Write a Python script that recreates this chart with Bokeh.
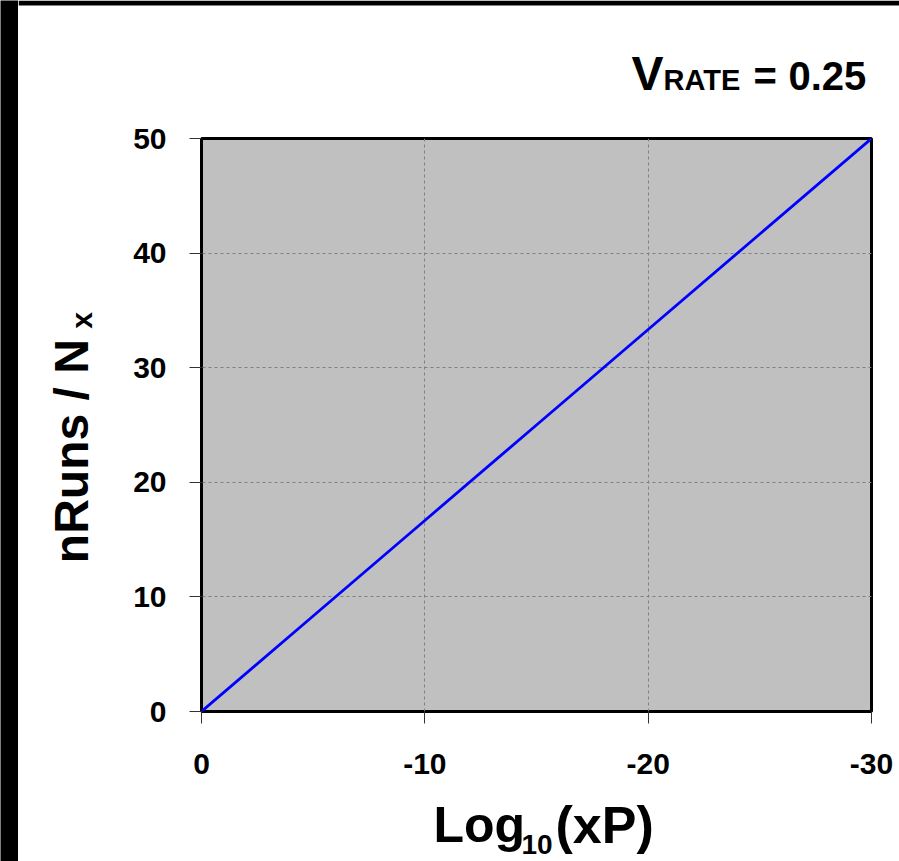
from bokeh.plotting import figure
from bokeh.models import Range1d, Label, FixedTicker, BoxAnnotation
from bokeh.layouts import row, column
from bokeh.embed import file_html
from bokeh.resources import INLINE
import math

# ---- data ----
log_xp = [0, -5, -10, -15, -20, -25, -30]
nruns = [0.0, 8.33, 16.67, 25.0, 33.33, 41.67, 50.0]
x_ticks = [0, -10, -20, -30]
x_tick_labels = ["0", "-10", "-20", "-30"]
y_ticks = [0, 10, 20, 30, 40, 50]
y_tick_labels = ["0", "10", "20", "30", "40", "50"]
title_parts = ["V", "RATE", "=", "0.25"]
xlabel_parts = ["Log", "10", "(xP)"]
ylabel_parts = ["nRuns / N", "x"]

FONT = "Liberation Sans"
PAGE_W, PAGE_H = 899, 861
EDGE_L, EDGE_T = 18, 5          # black page edges
MAIN_X0, MAIN_Y0, MAIN_Y1 = 100, 118, 790   # page box of the main figure
FRAME_T = 138


def blank(w, h, color):
    f = figure(width=w, height=h, output_backend="svg", toolbar_location=None,
               title=None, x_axis_type=None, y_axis_type=None, min_border=0)
    f.outline_line_color = None
    f.background_fill_color = color
    f.border_fill_color = color
    return f


def text_fig(x0, x1, y0, y1):
    # data x = page x; data y = PAGE_H - page y
    f = figure(width=x1 - x0, height=y1 - y0, output_backend="svg", toolbar_location=None,
               title=None, x_range=Range1d(x0, x1), y_range=Range1d(PAGE_H - y1, PAGE_H - y0),
               x_axis_type=None, y_axis_type=None, min_border=0)
    f.outline_line_color = None
    f.background_fill_color = "white"
    f.border_fill_color = "white"
    return f


def lab(f, text, X, Y, size, angle=0.0):
    f.add_layout(Label(x=X, y=PAGE_H - Y, text=text, text_font=FONT, text_font_style="bold",
                       text_font_size=f"{size}px", text_color="black",
                       text_align="left", text_baseline="alphabetic", angle=angle))


# ---- main chart ----
p = figure(width=PAGE_W - MAIN_X0, height=MAIN_Y1 - MAIN_Y0,
           output_backend="svg", toolbar_location=None, title=None,
           x_range=Range1d(0, -30), y_range=Range1d(0, 50),
           min_border_left=101, min_border_right=28,
           min_border_top=FRAME_T - MAIN_Y0, min_border_bottom=79)
p.background_fill_color = "#C0C0C0"
p.border_fill_color = "white"
p.outline_line_color = "black"
p.outline_line_width = 3

p.line(log_xp, nruns, line_color="#0000FF", line_width=2.8)

for ax in (p.xaxis, p.yaxis):
    ax.axis_line_color = None
    ax.major_tick_in = 0
    ax.major_tick_out = 12
    ax.major_tick_line_color = "#333333"
    ax.major_tick_line_width = 1
    ax.minor_tick_line_color = None
    ax.major_label_text_font = FONT
    ax.major_label_text_font_style = "bold"
    ax.major_label_text_font_size = "30px"
    ax.major_label_text_color = "black"
p.xaxis.ticker = FixedTicker(ticks=x_ticks)
p.yaxis.ticker = FixedTicker(ticks=y_ticks)
p.xaxis.major_label_overrides = dict(zip(x_ticks, x_tick_labels))
p.yaxis.major_label_overrides = dict(zip(y_ticks, y_tick_labels))
p.yaxis.major_label_standoff = 23
p.xaxis.major_label_standoff = 30

p.xgrid.ticker = FixedTicker(ticks=x_ticks)
p.ygrid.ticker = FixedTicker(ticks=y_ticks)
for g in (p.xgrid, p.ygrid):
    g.grid_line_color = "#808080"
    g.grid_line_dash = "3 3"
    g.grid_line_width = 1

# ---- text areas around the chart ----
# (Label anchors sit about 0.32 em above the drawn baseline)
top = text_fig(EDGE_L, PAGE_W, 0, MAIN_Y0)
top.add_layout(BoxAnnotation(left=EDGE_L, right=PAGE_W, top=PAGE_H, bottom=PAGE_H - EDGE_T,
                             fill_color="black", fill_alpha=1, line_color=None))
lab(top, title_parts[0], 631, 73, 48)
lab(top, title_parts[1], 663, 79, 29)
lab(top, title_parts[2], 753, 75, 40)
lab(top, title_parts[3], 788, 75, 40)

bottom = text_fig(EDGE_L, PAGE_W, MAIN_Y1, PAGE_H)
lab(bottom, xlabel_parts[0], 433, 824, 50)
lab(bottom, xlabel_parts[1], 521, 844, 28)
lab(bottom, xlabel_parts[2], 555, 824, 52)

left = text_fig(EDGE_L, MAIN_X0, MAIN_Y0, MAIN_Y1)
lab(left, ylabel_parts[0], 71, 616, 48, angle=math.pi / 2)
lab(left, ylabel_parts[1], 81, 341, 30, angle=math.pi / 2)

layout = row(
    blank(EDGE_L, PAGE_H, "black"),
    column(top, row(left, p), bottom),
)

open("out.html", "w").write(file_html(layout, INLINE))
